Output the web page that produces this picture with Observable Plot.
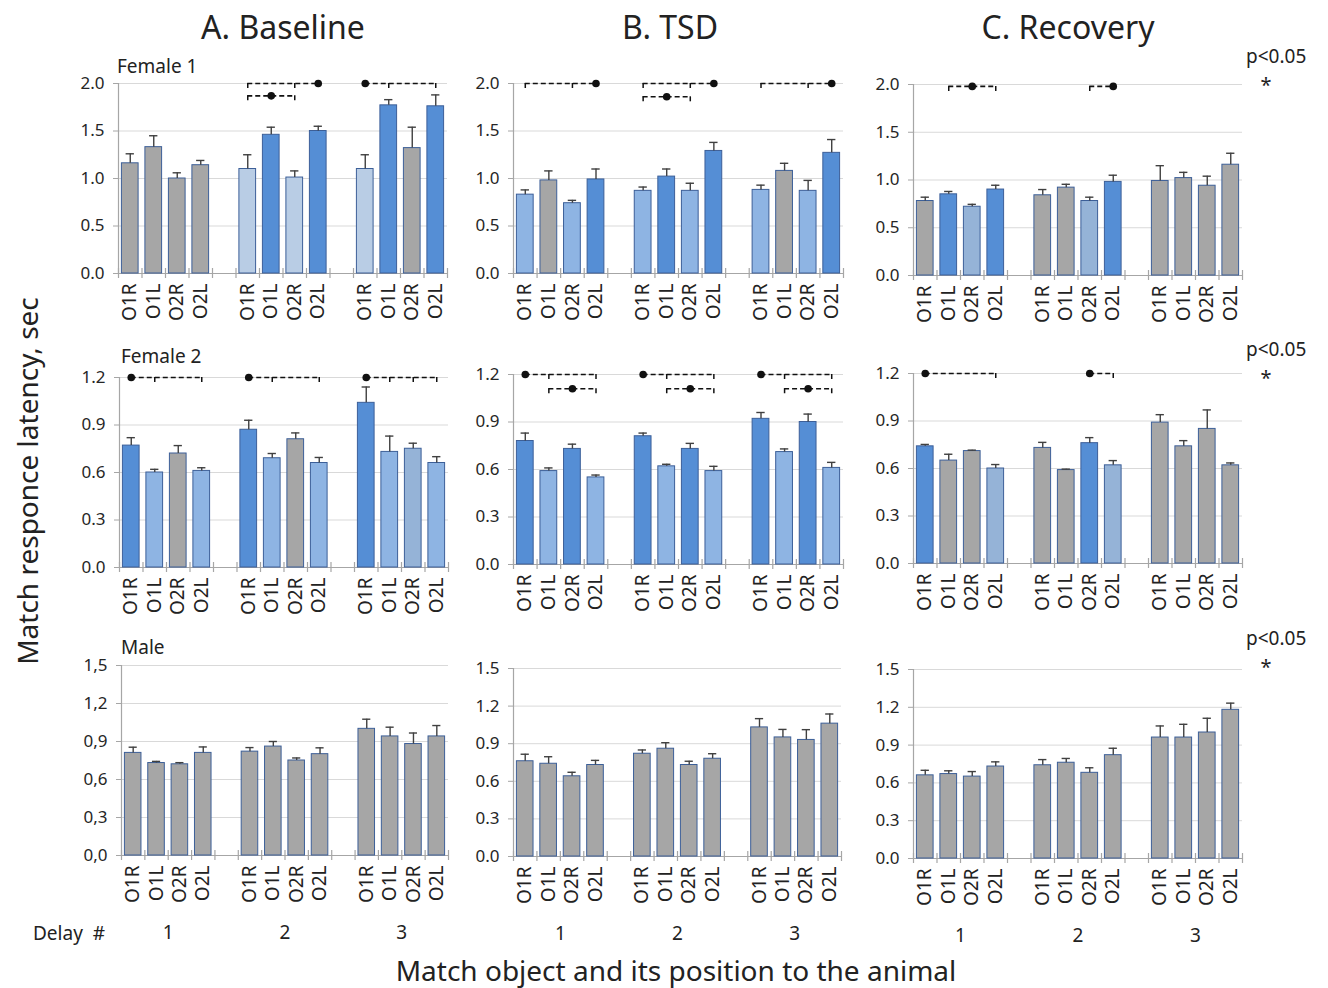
<!DOCTYPE html>
<html><head><meta charset="utf-8">
<script src="https://cdn.jsdelivr.net/npm/d3@7"></script>
<script src="https://cdn.jsdelivr.net/npm/@observablehq/plot@0.6"></script>
<style>
body{margin:0;background:#fff;}
#fig{position:relative;width:1328px;height:988px;font-family:"Noto Sans",sans-serif;color:#222;overflow:hidden;background:#fff}
.t{position:absolute;white-space:pre;transform:translate(-50%,-50%);line-height:1}
.l{position:absolute;white-space:pre;transform:translateY(-50%);line-height:1}
.panel{position:absolute}
</style></head><body><div id="fig"></div><script>
// ---------- data ----------
const conditions = ["A. Baseline", "B. TSD", "C. Recovery"];
const animals = ["Female 1", "Female 2", "Male"];
const objects = ["O1R", "O1L", "O2R", "O2L"];
const delays = ["1", "2", "3"];
const yTicksFemale1 = [0, 0.5, 1.0, 1.5, 2.0];
const yTicksFemale2 = [0, 0.3, 0.6, 0.9, 1.2];
const yTicksMale = [0, 0.3, 0.6, 0.9, 1.2, 1.5];
const pLabel = "p<0.05";
const starLabel = "*";
const xTitle = "Match object and its position to the animal";
const yTitle = "Match responce latency, sec";
const delayTitle = "Delay  #";

// values: delay 1 (O1R,O1L,O2R,O2L), delay 2, delay 3
const f1Baseline    = [1.16, 1.33, 1.00, 1.14,  1.10, 1.46, 1.01, 1.50,  1.10, 1.77, 1.32, 1.76];
const f1BaselineErr = [0.10, 0.12, 0.06, 0.05,  0.15, 0.08, 0.07, 0.05,  0.15, 0.06, 0.22, 0.12];
const f1BaselineCol = ["G","G","G","G", "V","D","V","D", "V","D","G","D"];
const f1Tsd         = [0.83, 0.98, 0.74, 0.99,  0.87, 1.02, 0.87, 1.29,  0.88, 1.08, 0.87, 1.27];
const f1TsdErr      = [0.05, 0.10, 0.03, 0.11,  0.04, 0.08, 0.08, 0.09,  0.05, 0.08, 0.11, 0.14];
const f1TsdCol      = ["L","G","L","D", "L","D","L","D", "L","G","L","D"];
const f1Recovery    = [0.78, 0.85, 0.72, 0.90,  0.84, 0.92, 0.78, 0.98,  0.99, 1.02, 0.94, 1.16];
const f1RecoveryErr = [0.04, 0.03, 0.025, 0.045, 0.06, 0.035, 0.04, 0.07, 0.16, 0.06, 0.10, 0.12];
const f1RecoveryCol = ["G","D","S","D", "G","G","S","D", "G","G","G","G"];

const f2Baseline    = [0.77, 0.60, 0.72, 0.61,  0.87, 0.69, 0.81, 0.66,  1.04, 0.73, 0.75, 0.66];
const f2BaselineErr = [0.05, 0.02, 0.05, 0.02,  0.06, 0.03, 0.04, 0.035, 0.10, 0.10, 0.035, 0.04];
const f2BaselineCol = ["D","L","G","L", "D","L","G","L", "D","L","S","L"];
const f2Tsd         = [0.78, 0.59, 0.73, 0.55,  0.81, 0.62, 0.73, 0.59,  0.92, 0.71, 0.90, 0.61];
const f2TsdErr      = [0.05, 0.02, 0.03, 0.015, 0.02, 0.013, 0.035, 0.03, 0.04, 0.02, 0.05, 0.035];
const f2TsdCol      = ["D","L","D","L", "D","L","D","L", "D","L","D","L"];
const f2Recovery    = [0.74, 0.65, 0.71, 0.60,  0.73, 0.59, 0.76, 0.62,  0.89, 0.74, 0.85, 0.62];
const f2RecoveryErr = [0.012, 0.04, 0.006, 0.025, 0.035, 0.006, 0.035, 0.03, 0.05, 0.036, 0.12, 0.015];
const f2RecoveryCol = ["D","G","G","S", "G","G","D","S", "G","G","G","G"];

const mBaseline     = [0.81, 0.73, 0.72, 0.81,  0.82, 0.86, 0.75, 0.80,  1.00, 0.94, 0.88, 0.94];
const mBaselineErr  = [0.045, 0.013, 0.013, 0.047, 0.032, 0.04, 0.02, 0.05, 0.076, 0.073, 0.087, 0.086];
const mTsd          = [0.76, 0.74, 0.64, 0.73,  0.82, 0.86, 0.73, 0.78,  1.03, 0.95, 0.93, 1.06];
const mTsdErr       = [0.056, 0.056, 0.032, 0.037, 0.03, 0.048, 0.03, 0.04, 0.07, 0.064, 0.082, 0.077];
const mRecovery     = [0.66, 0.67, 0.65, 0.73,  0.74, 0.76, 0.68, 0.82,  0.96, 0.96, 1.00, 1.18];
const mRecoveryErr  = [0.04, 0.026, 0.04, 0.037, 0.045, 0.034, 0.04, 0.055, 0.092, 0.105, 0.113, 0.053];
const mCol          = ["G","G","G","G", "G","G","G","G", "G","G","G","G"];

// significance brackets: dot = reference bar, ticks = bars it differs from
const f1BaselineSig = [
  {level: 2.0,  dot: "2 O2L", ticks: ["2 O1R", "2 O2R"]},
  {level: 1.87, dot: "2 O1L", ticks: ["2 O1R", "2 O2R"]},
  {level: 2.0,  dot: "3 O1R", ticks: ["3 O1L", "3 O2L"]}
];
const f1TsdSig = [
  {level: 2.0,  dot: "1 O2L", ticks: ["1 O1R", "1 O2R"]},
  {level: 2.0,  dot: "2 O2L", ticks: ["2 O1R", "2 O2R"]},
  {level: 1.86, dot: "2 O1L", ticks: ["2 O1R", "2 O2R"]},
  {level: 2.0,  dot: "3 O2L", ticks: ["3 O1R", "3 O2R"]}
];
const f1RecoverySig = [
  {level: 1.98, dot: "1 O2R", ticks: ["1 O1L", "1 O2L"]},
  {level: 1.98, dot: "2 O2L", ticks: ["2 O2R"]}
];
const f2BaselineSig = [
  {level: 1.2, dot: "1 O1R", ticks: ["1 O1L", "1 O2L"]},
  {level: 1.2, dot: "2 O1R", ticks: ["2 O1L", "2 O2L"]},
  {level: 1.2, dot: "3 O1R", ticks: ["3 O1L", "3 O2R", "3 O2L"]}
];
const f2TsdSig = [
  {level: 1.2,  dot: "1 O1R", ticks: ["1 O1L", "1 O2L"]},
  {level: 1.11, dot: "1 O2R", ticks: ["1 O1L", "1 O2L"]},
  {level: 1.2,  dot: "2 O1R", ticks: ["2 O1L", "2 O2L"]},
  {level: 1.11, dot: "2 O2R", ticks: ["2 O1L", "2 O2L"]},
  {level: 1.2,  dot: "3 O1R", ticks: ["3 O1L", "3 O2L"]},
  {level: 1.11, dot: "3 O2R", ticks: ["3 O1L", "3 O2L"]}
];
const f2RecoverySig = [
  {level: 1.2, dot: "1 O1R", ticks: ["1 O2L"]},
  {level: 1.2, dot: "2 O2R", ticks: ["2 O2L"]}
];

// ---------- styling / layout ----------
const palette = {G: "#a6a6a6", D: "#558ed5", L: "#8eb4e3", V: "#b9cde5", S: "#95b3d7"};
const fig = document.getElementById("fig");
const FONT = "'Noto Sans', sans-serif";

function slotOf(key) {
  // "2 O2L" -> position on the 14-slot axis (4 bars + gap per delay)
  const [d, o] = key.split(" ");
  return (+d - 1) * 5 + objects.indexOf(o);
}

const panels = [
  {row: 0, col: 0, v: f1Baseline, e: f1BaselineErr, c: f1BaselineCol, sig: f1BaselineSig, ticks: yTicksFemale1, x0: 118, x1: 447, yt: 83, yb: 273},
  {row: 0, col: 1, v: f1Tsd, e: f1TsdErr, c: f1TsdCol, sig: f1TsdSig, ticks: yTicksFemale1, x0: 513, x1: 843, yt: 83, yb: 273},
  {row: 0, col: 2, v: f1Recovery, e: f1RecoveryErr, c: f1RecoveryCol, sig: f1RecoverySig, ticks: yTicksFemale1, x0: 913, x1: 1242, yt: 84, yb: 275},
  {row: 1, col: 0, v: f2Baseline, e: f2BaselineErr, c: f2BaselineCol, sig: f2BaselineSig, ticks: yTicksFemale2, x0: 119, x1: 448, yt: 377, yb: 567},
  {row: 1, col: 1, v: f2Tsd, e: f2TsdErr, c: f2TsdCol, sig: f2TsdSig, ticks: yTicksFemale2, x0: 513, x1: 843, yt: 374, yb: 564},
  {row: 1, col: 2, v: f2Recovery, e: f2RecoveryErr, c: f2RecoveryCol, sig: f2RecoverySig, ticks: yTicksFemale2, x0: 913, x1: 1242, yt: 373, yb: 563},
  {row: 2, col: 0, v: mBaseline, e: mBaselineErr, c: mCol, sig: [], ticks: yTicksMale, x0: 121, x1: 448, yt: 665, yb: 855, comma: true},
  {row: 2, col: 1, v: mTsd, e: mTsdErr, c: mCol, sig: [], ticks: yTicksMale, x0: 513, x1: 841, yt: 668, yb: 856},
  {row: 2, col: 2, v: mRecovery, e: mRecoveryErr, c: mCol, sig: [], ticks: yTicksMale, x0: 913, x1: 1242, yt: 669, yb: 858}
];

function drawPanel(p) {
  const bars = p.v.map((v, i) => ({
    slot: Math.floor(i / 4) * 5 + (i % 4),
    label: objects[i % 4],
    value: v,
    top: v + p.e[i],
    color: palette[p.c[i]]
  }));
  const sig = p.sig.map(s => {
    const d = slotOf(s.dot) + 0.5;
    const t = s.ticks.map(k => slotOf(k) + 0.5);
    const all = [d, ...t];
    return {level: s.level, from: Math.min(...all), to: Math.max(...all), dot: d, ticks: t};
  });
  const sigTicks = sig.flatMap(s => s.ticks.map(x => ({x, level: s.level})));
  const ml = 52, mr = 8, mt = 18, mb = p.row === 2 ? 96 : 62;
  const ymax = p.ticks[p.ticks.length - 1];
  const fmt = p.comma ? (d => d3.format(".1f")(d).replace(".", ",")) : d3.format(".1f");
  const chart = Plot.plot({
    width: ml + (p.x1 - p.x0) + mr,
    height: mt + (p.yb - p.yt) + mb,
    marginLeft: ml, marginRight: mr, marginTop: mt, marginBottom: mb,
    x: {domain: [0, 14], axis: null},
    y: {domain: [0, ymax], axis: null},
    color: {type: "identity"},
    style: {fontFamily: FONT, background: "transparent", overflow: "visible"},
    marks: [
      Plot.gridY(p.ticks, {stroke: "#d9d9d9", strokeOpacity: 1}),
      Plot.ruleX([0], {stroke: "#a6a6a6", strokeWidth: 1.2}),
      Plot.ruleY([0], {stroke: "#a6a6a6", strokeWidth: 1.2}),
      Plot.ruleX(d3.range(15), {x: d => d, y1: 0, y2: 0, insetTop: -5, insetBottom: -5, stroke: "#a6a6a6", strokeWidth: 1.2}),
      Plot.axisY(p.ticks, {tickSize: 5, tickPadding: 9, tickFormat: fmt, fontSize: 17, stroke: "#a6a6a6", color: "#262626"}),
      Plot.rectY(bars, {x1: "slot", x2: d => d.slot + 1, y1: 0, y2: "value", insetLeft: 3.4, insetRight: 3.4,
        fill: "color", stroke: "#3c5f98", strokeWidth: 1}),
      Plot.ruleX(bars, {x: d => d.slot + 0.5, y1: "value", y2: "top", stroke: "#404040", strokeWidth: 1.4}),
      Plot.ruleY(bars, {y: "top", x1: "slot", x2: d => d.slot + 1, insetLeft: 7.6, insetRight: 7.6, stroke: "#404040", strokeWidth: 1.4}),
      Plot.text(bars, {x: d => d.slot + 0.5, y: 0, text: "label", rotate: -90, textAnchor: "end", dy: 10,
        fontSize: 19, fill: "#222"}),
      Plot.ruleY(sig, {y: "level", x1: "from", x2: "to", stroke: "#111", strokeWidth: 1.6, strokeDasharray: "5,3"}),
      Plot.ruleX(sigTicks, {x: "x", y1: "level", y2: "level", insetTop: 0, insetBottom: -5, stroke: "#111", strokeWidth: 1.5}),
      Plot.dot(sig, {x: "dot", y: "level", r: 3.8, fill: "#111", stroke: null}),
      p.row === 2 ? Plot.text(delays, {x: (d, i) => i * 5 + 2, y: 0, dy: 77, text: d => d, fontSize: 19, fill: "#222"}) : null
    ]
  });
  chart.classList.add("panel");
  chart.style.left = (p.x0 - ml) + "px";
  chart.style.top = (p.yt - mt) + "px";
  fig.appendChild(chart);
}
panels.forEach(drawPanel);

function addText(txt, x, y, size, cls = "t", extra = "") {
  const el = document.createElement("div");
  el.className = cls;
  el.textContent = txt;
  el.style.left = x + "px";
  el.style.top = y + "px";
  el.style.fontSize = size + "px";
  if (extra) el.style.cssText += extra;
  fig.appendChild(el);
  return el;
}
// column titles
[283, 670, 1068].forEach((x, i) => addText(conditions[i], x, 27, 32));
// row labels
[[117, 66], [121, 356], [121, 647]].forEach(([x, y], i) => addText(animals[i], x, y, 19, "l"));
// significance legend
[56, 349, 638].forEach(y => {
  addText(pLabel, 1246, y, 19, "l");
  addText(starLabel, 1266, y + 29, 20);
});
addText(delayTitle, 33, 933, 19, "l");
addText(xTitle, 676, 970, 28);
addText(yTitle, 27, 481, 28, "t", "transform:translate(-50%,-50%) rotate(-90deg);");
</script></body></html>
